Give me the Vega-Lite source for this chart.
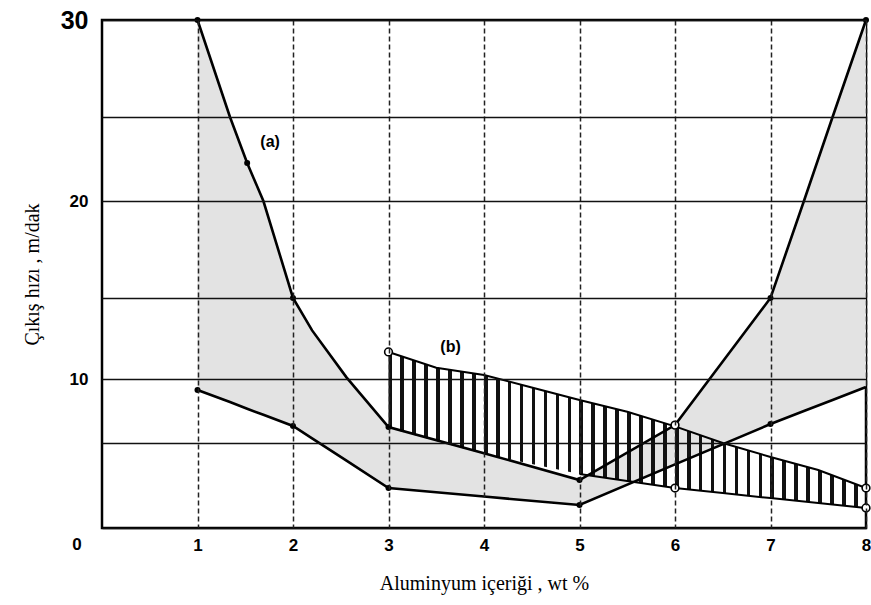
{
  "$schema": "https://vega.github.io/schema/vega-lite/v6.json",
  "width": 764,
  "height": 508,
  "autosize": {"type": "none"},
  "padding": {"left": 102, "top": 20, "right": 5, "bottom": 77},
  "background": "white",
  "config": {
    "view": {"stroke": "#000", "strokeWidth": 2.5},
    "axis": {"labelColor": "#000", "titleColor": "#000", "domain": false, "ticks": false}
  },
  "datasets": {
    "a": [
      {"x": 1, "hi": 30, "lo": 9.14},
      {"x": 1.34, "hi": 25, "lo": 8.2},
      {"x": 1.52, "hi": 22.26, "lo": 7.68},
      {"x": 1.69, "hi": 20, "lo": 7.2},
      {"x": 2, "hi": 15, "lo": 6.33},
      {"x": 2.2, "hi": 13, "lo": 5.36},
      {"x": 2.56, "hi": 10.1, "lo": 3.96},
      {"x": 3, "hi": 6.25, "lo": 2.35},
      {"x": 4, "hi": 4.4, "lo": 1.85},
      {"x": 5, "hi": 2.82, "lo": 1.35},
      {"x": 6, "hi": 6.4, "lo": 3.74},
      {"x": 7, "hi": 15, "lo": 6.48},
      {"x": 7.35, "hi": 20, "lo": 7.5},
      {"x": 7.65, "hi": 25, "lo": 8.36},
      {"x": 8, "hi": 30, "lo": 9.38}
    ],
    "b": [
      {"x": 3, "hi": 11.67, "lo": 6.17},
      {"x": 3.5, "hi": 10.69, "lo": 5.16},
      {"x": 4, "hi": 10.25, "lo": 4.35},
      {"x": 4.5, "hi": 9.34, "lo": 3.76},
      {"x": 5, "hi": 8.36, "lo": 3.18},
      {"x": 5.5, "hi": 7.44, "lo": 2.76},
      {"x": 6, "hi": 6.3, "lo": 2.35},
      {"x": 6.5, "hi": 5.0, "lo": 2.06},
      {"x": 7, "hi": 4.18, "lo": 1.76},
      {"x": 7.5, "hi": 3.41, "lo": 1.47},
      {"x": 8, "hi": 2.35, "lo": 1.18}
    ],
    "pts": [
      {"x": 1, "y": 30, "kind": "filled"},
      {"x": 1.52, "y": 22.26, "kind": "filled"},
      {"x": 2, "y": 15, "kind": "filled"},
      {"x": 3, "y": 6.25, "kind": "filled"},
      {"x": 5, "y": 2.82, "kind": "filled"},
      {"x": 7, "y": 15, "kind": "filled"},
      {"x": 8, "y": 30, "kind": "filled"},
      {"x": 1, "y": 9.14, "kind": "filled"},
      {"x": 2, "y": 6.33, "kind": "filled"},
      {"x": 3, "y": 2.35, "kind": "filled"},
      {"x": 5, "y": 1.35, "kind": "filled"},
      {"x": 7, "y": 6.48, "kind": "filled"},
      {"x": 3, "y": 11.67, "kind": "open"},
      {"x": 6, "y": 6.4, "kind": "open"},
      {"x": 6, "y": 2.35, "kind": "open"},
      {"x": 8, "y": 2.35, "kind": "open"},
      {"x": 8, "y": 1.18, "kind": "open"}
    ],
    "labels": [
      {"x": 1.76, "y": 23.5, "t": "(a)"},
      {"x": 3.65, "y": 11.98, "t": "(b)"}
    ],
    "origin": [{"x": 0, "y": 0, "t": "0"}]
  },
  "layer": [
    {
      "data": {"name": "a"},
      "mark": {"type": "area", "color": "#e3e3e3"},
      "encoding": {
        "x": {
          "field": "x", "type": "quantitative",
          "scale": {"domain": [0, 8], "nice": false},
          "title": "Aluminyum içeriği , wt %",
          "axis": {
            "values": [1, 2, 3, 4, 5, 6, 7, 8],
            "format": "d",
            "grid": true, "gridColor": "#222", "gridWidth": 1.5, "gridDash": [5, 3],
            "labelFont": "Liberation Sans", "labelFontWeight": "bold", "labelFontSize": 17,
            "labelPadding": 9, "labelFlush": false,
            "titleFont": "Liberation Serif", "titleFontWeight": "normal", "titleFontSize": 20,
            "titlePadding": 20, "zindex": 1
          }
        },
        "y": {
          "field": "hi", "type": "quantitative",
          "scale": {"domain": [0, 5, 10, 15, 20, 25, 30], "range": [508, 423, 359, 278, 181, 97, 0], "nice": false},
          "title": "Çıkış hızı , m/dak",
          "axis": {
            "values": [0, 5, 10, 15, 20, 25, 30],
            "labelExpr": "datum.value % 10 == 0 && datum.value > 0 ? datum.label : ''",
            "grid": true, "gridColor": "#111", "gridWidth": 1.6,
            "labelFont": "Liberation Sans", "labelFontWeight": "bold",
            "labelFontSize": {"condition": {"test": "datum.value == 30", "value": 25}, "value": 17},
            "labelPadding": 14,
            "titleFont": "Liberation Serif", "titleFontWeight": "normal", "titleFontSize": 20,
            "titlePadding": 18, "zindex": 1
          }
        },
        "y2": {"field": "lo"}
      }
    },
    {
      "data": {"name": "b"},
      "mark": {
        "type": "area",
        "color": {
          "gradient": "linear", "x1": 0, "y1": 0, "x2": 1, "y2": 0,
          "stops": [
            {"offset": 0, "color": "#111"}, {"offset": 0.0075, "color": "#111"}, {"offset": 0.0075, "color": "rgba(0,0,0,0)"}, {"offset": 0.025, "color": "rgba(0,0,0,0)"},
            {"offset": 0.025, "color": "#111"}, {"offset": 0.0325, "color": "#111"}, {"offset": 0.0325, "color": "rgba(0,0,0,0)"}, {"offset": 0.05, "color": "rgba(0,0,0,0)"},
            {"offset": 0.05, "color": "#111"}, {"offset": 0.0575, "color": "#111"}, {"offset": 0.0575, "color": "rgba(0,0,0,0)"}, {"offset": 0.075, "color": "rgba(0,0,0,0)"},
            {"offset": 0.075, "color": "#111"}, {"offset": 0.0825, "color": "#111"}, {"offset": 0.0825, "color": "rgba(0,0,0,0)"}, {"offset": 0.1, "color": "rgba(0,0,0,0)"},
            {"offset": 0.1, "color": "#111"}, {"offset": 0.1075, "color": "#111"}, {"offset": 0.1075, "color": "rgba(0,0,0,0)"}, {"offset": 0.125, "color": "rgba(0,0,0,0)"},
            {"offset": 0.125, "color": "#111"}, {"offset": 0.1325, "color": "#111"}, {"offset": 0.1325, "color": "rgba(0,0,0,0)"}, {"offset": 0.15, "color": "rgba(0,0,0,0)"},
            {"offset": 0.15, "color": "#111"}, {"offset": 0.1575, "color": "#111"}, {"offset": 0.1575, "color": "rgba(0,0,0,0)"}, {"offset": 0.175, "color": "rgba(0,0,0,0)"},
            {"offset": 0.175, "color": "#111"}, {"offset": 0.1825, "color": "#111"}, {"offset": 0.1825, "color": "rgba(0,0,0,0)"}, {"offset": 0.2, "color": "rgba(0,0,0,0)"},
            {"offset": 0.2, "color": "#111"}, {"offset": 0.2075, "color": "#111"}, {"offset": 0.2075, "color": "rgba(0,0,0,0)"}, {"offset": 0.225, "color": "rgba(0,0,0,0)"},
            {"offset": 0.225, "color": "#111"}, {"offset": 0.2325, "color": "#111"}, {"offset": 0.2325, "color": "rgba(0,0,0,0)"}, {"offset": 0.25, "color": "rgba(0,0,0,0)"},
            {"offset": 0.25, "color": "#111"}, {"offset": 0.2575, "color": "#111"}, {"offset": 0.2575, "color": "rgba(0,0,0,0)"}, {"offset": 0.275, "color": "rgba(0,0,0,0)"},
            {"offset": 0.275, "color": "#111"}, {"offset": 0.2825, "color": "#111"}, {"offset": 0.2825, "color": "rgba(0,0,0,0)"}, {"offset": 0.3, "color": "rgba(0,0,0,0)"},
            {"offset": 0.3, "color": "#111"}, {"offset": 0.3075, "color": "#111"}, {"offset": 0.3075, "color": "rgba(0,0,0,0)"}, {"offset": 0.325, "color": "rgba(0,0,0,0)"},
            {"offset": 0.325, "color": "#111"}, {"offset": 0.3325, "color": "#111"}, {"offset": 0.3325, "color": "rgba(0,0,0,0)"}, {"offset": 0.35, "color": "rgba(0,0,0,0)"},
            {"offset": 0.35, "color": "#111"}, {"offset": 0.3575, "color": "#111"}, {"offset": 0.3575, "color": "rgba(0,0,0,0)"}, {"offset": 0.375, "color": "rgba(0,0,0,0)"},
            {"offset": 0.375, "color": "#111"}, {"offset": 0.3825, "color": "#111"}, {"offset": 0.3825, "color": "rgba(0,0,0,0)"}, {"offset": 0.4, "color": "rgba(0,0,0,0)"},
            {"offset": 0.4, "color": "#111"}, {"offset": 0.4075, "color": "#111"}, {"offset": 0.4075, "color": "rgba(0,0,0,0)"}, {"offset": 0.425, "color": "rgba(0,0,0,0)"},
            {"offset": 0.425, "color": "#111"}, {"offset": 0.4325, "color": "#111"}, {"offset": 0.4325, "color": "rgba(0,0,0,0)"}, {"offset": 0.45, "color": "rgba(0,0,0,0)"},
            {"offset": 0.45, "color": "#111"}, {"offset": 0.4575, "color": "#111"}, {"offset": 0.4575, "color": "rgba(0,0,0,0)"}, {"offset": 0.475, "color": "rgba(0,0,0,0)"},
            {"offset": 0.475, "color": "#111"}, {"offset": 0.4825, "color": "#111"}, {"offset": 0.4825, "color": "rgba(0,0,0,0)"}, {"offset": 0.5, "color": "rgba(0,0,0,0)"},
            {"offset": 0.5, "color": "#111"}, {"offset": 0.5075, "color": "#111"}, {"offset": 0.5075, "color": "rgba(0,0,0,0)"}, {"offset": 0.525, "color": "rgba(0,0,0,0)"},
            {"offset": 0.525, "color": "#111"}, {"offset": 0.5325, "color": "#111"}, {"offset": 0.5325, "color": "rgba(0,0,0,0)"}, {"offset": 0.55, "color": "rgba(0,0,0,0)"},
            {"offset": 0.55, "color": "#111"}, {"offset": 0.5575, "color": "#111"}, {"offset": 0.5575, "color": "rgba(0,0,0,0)"}, {"offset": 0.575, "color": "rgba(0,0,0,0)"},
            {"offset": 0.575, "color": "#111"}, {"offset": 0.5825, "color": "#111"}, {"offset": 0.5825, "color": "rgba(0,0,0,0)"}, {"offset": 0.6, "color": "rgba(0,0,0,0)"},
            {"offset": 0.6, "color": "#111"}, {"offset": 0.6075, "color": "#111"}, {"offset": 0.6075, "color": "rgba(0,0,0,0)"}, {"offset": 0.625, "color": "rgba(0,0,0,0)"},
            {"offset": 0.625, "color": "#111"}, {"offset": 0.6325, "color": "#111"}, {"offset": 0.6325, "color": "rgba(0,0,0,0)"}, {"offset": 0.65, "color": "rgba(0,0,0,0)"},
            {"offset": 0.65, "color": "#111"}, {"offset": 0.6575, "color": "#111"}, {"offset": 0.6575, "color": "rgba(0,0,0,0)"}, {"offset": 0.675, "color": "rgba(0,0,0,0)"},
            {"offset": 0.675, "color": "#111"}, {"offset": 0.6825, "color": "#111"}, {"offset": 0.6825, "color": "rgba(0,0,0,0)"}, {"offset": 0.7, "color": "rgba(0,0,0,0)"},
            {"offset": 0.7, "color": "#111"}, {"offset": 0.7075, "color": "#111"}, {"offset": 0.7075, "color": "rgba(0,0,0,0)"}, {"offset": 0.725, "color": "rgba(0,0,0,0)"},
            {"offset": 0.725, "color": "#111"}, {"offset": 0.7325, "color": "#111"}, {"offset": 0.7325, "color": "rgba(0,0,0,0)"}, {"offset": 0.75, "color": "rgba(0,0,0,0)"},
            {"offset": 0.75, "color": "#111"}, {"offset": 0.7575, "color": "#111"}, {"offset": 0.7575, "color": "rgba(0,0,0,0)"}, {"offset": 0.775, "color": "rgba(0,0,0,0)"},
            {"offset": 0.775, "color": "#111"}, {"offset": 0.7825, "color": "#111"}, {"offset": 0.7825, "color": "rgba(0,0,0,0)"}, {"offset": 0.8, "color": "rgba(0,0,0,0)"},
            {"offset": 0.8, "color": "#111"}, {"offset": 0.8075, "color": "#111"}, {"offset": 0.8075, "color": "rgba(0,0,0,0)"}, {"offset": 0.825, "color": "rgba(0,0,0,0)"},
            {"offset": 0.825, "color": "#111"}, {"offset": 0.8325, "color": "#111"}, {"offset": 0.8325, "color": "rgba(0,0,0,0)"}, {"offset": 0.85, "color": "rgba(0,0,0,0)"},
            {"offset": 0.85, "color": "#111"}, {"offset": 0.8575, "color": "#111"}, {"offset": 0.8575, "color": "rgba(0,0,0,0)"}, {"offset": 0.875, "color": "rgba(0,0,0,0)"},
            {"offset": 0.875, "color": "#111"}, {"offset": 0.8825, "color": "#111"}, {"offset": 0.8825, "color": "rgba(0,0,0,0)"}, {"offset": 0.9, "color": "rgba(0,0,0,0)"},
            {"offset": 0.9, "color": "#111"}, {"offset": 0.9075, "color": "#111"}, {"offset": 0.9075, "color": "rgba(0,0,0,0)"}, {"offset": 0.925, "color": "rgba(0,0,0,0)"},
            {"offset": 0.925, "color": "#111"}, {"offset": 0.9325, "color": "#111"}, {"offset": 0.9325, "color": "rgba(0,0,0,0)"}, {"offset": 0.95, "color": "rgba(0,0,0,0)"},
            {"offset": 0.95, "color": "#111"}, {"offset": 0.9575, "color": "#111"}, {"offset": 0.9575, "color": "rgba(0,0,0,0)"}, {"offset": 0.975, "color": "rgba(0,0,0,0)"},
            {"offset": 0.975, "color": "#111"}, {"offset": 0.9825, "color": "#111"}, {"offset": 0.9825, "color": "rgba(0,0,0,0)"}, {"offset": 1, "color": "rgba(0,0,0,0)"}
          ]
        }
      },
      "encoding": {
        "x": {"field": "x", "type": "quantitative", "title": "Aluminyum içeriği , wt %"},
        "y": {"field": "hi", "type": "quantitative", "title": "Çıkış hızı , m/dak"},
        "y2": {"field": "lo"}
      }
    },
    {
      "data": {"name": "a"},
      "mark": {"type": "line", "color": "#000", "strokeWidth": 2.6},
      "encoding": {
        "x": {"field": "x", "type": "quantitative", "title": "Aluminyum içeriği , wt %"},
        "y": {"field": "hi", "type": "quantitative", "title": "Çıkış hızı , m/dak"}
      }
    },
    {
      "data": {"name": "a"},
      "mark": {"type": "line", "color": "#000", "strokeWidth": 2.6},
      "encoding": {
        "x": {"field": "x", "type": "quantitative", "title": "Aluminyum içeriği , wt %"},
        "y": {"field": "lo", "type": "quantitative", "title": "Çıkış hızı , m/dak"}
      }
    },
    {
      "data": {"name": "b"},
      "mark": {"type": "line", "color": "#000", "strokeWidth": 2},
      "encoding": {
        "x": {"field": "x", "type": "quantitative", "title": "Aluminyum içeriği , wt %"},
        "y": {"field": "hi", "type": "quantitative", "title": "Çıkış hızı , m/dak"}
      }
    },
    {
      "data": {"name": "b"},
      "transform": [{"filter": "datum.x >= 5"}],
      "mark": {"type": "line", "color": "#000", "strokeWidth": 2},
      "encoding": {
        "x": {"field": "x", "type": "quantitative", "title": "Aluminyum içeriği , wt %"},
        "y": {"field": "lo", "type": "quantitative", "title": "Çıkış hızı , m/dak"}
      }
    },
    {
      "data": {"name": "pts"},
      "transform": [{"filter": "datum.kind == 'filled'"}],
      "mark": {"type": "circle", "color": "#000", "size": 36, "opacity": 1},
      "encoding": {
        "x": {"field": "x", "type": "quantitative", "title": "Aluminyum içeriği , wt %"},
        "y": {"field": "y", "type": "quantitative", "title": "Çıkış hızı , m/dak"}
      }
    },
    {
      "data": {"name": "pts"},
      "transform": [{"filter": "datum.kind == 'open'"}],
      "mark": {"type": "point", "shape": "circle", "filled": true, "fill": "#fff", "stroke": "#000", "strokeWidth": 1.6, "size": 60, "opacity": 1},
      "encoding": {
        "x": {"field": "x", "type": "quantitative", "title": "Aluminyum içeriği , wt %"},
        "y": {"field": "y", "type": "quantitative", "title": "Çıkış hızı , m/dak"}
      }
    },
    {
      "data": {"name": "labels"},
      "mark": {"type": "text", "font": "Liberation Sans", "fontWeight": "bold", "fontSize": 16, "color": "#000", "align": "center", "baseline": "middle"},
      "encoding": {
        "x": {"field": "x", "type": "quantitative", "title": "Aluminyum içeriği , wt %"},
        "y": {"field": "y", "type": "quantitative", "title": "Çıkış hızı , m/dak"},
        "text": {"field": "t"}
      }
    },
    {
      "data": {"name": "origin"},
      "mark": {"type": "text", "font": "Liberation Sans", "fontWeight": "bold", "fontSize": 17, "color": "#000", "align": "center", "baseline": "middle", "dx": -25, "dy": 17},
      "encoding": {
        "x": {"field": "x", "type": "quantitative", "title": "Aluminyum içeriği , wt %"},
        "y": {"field": "y", "type": "quantitative", "title": "Çıkış hızı , m/dak"},
        "text": {"field": "t"}
      }
    }
  ]
}
